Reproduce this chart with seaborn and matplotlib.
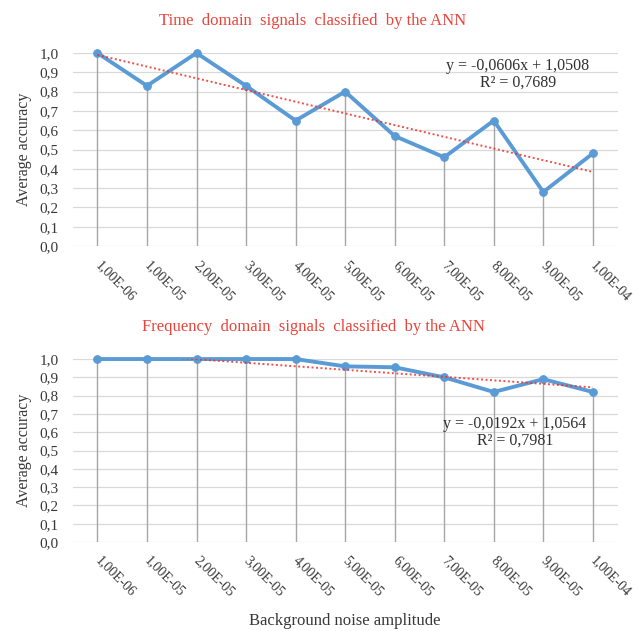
import numpy as np
import pandas as pd
import matplotlib
matplotlib.use("Agg")
import matplotlib.pyplot as plt
import seaborn as sns

# Noise amplitude categories (x axis)
noise_labels = ["1,00E-06", "1,00E-05", "2,00E-05", "3,00E-05", "4,00E-05",
                "5,00E-05", "6,00E-05", "7,00E-05", "8,00E-05", "9,00E-05", "1,00E-04"]

# Average accuracy per noise level
time_acc = [1.00, 0.83, 1.00, 0.83, 0.65, 0.80, 0.57, 0.46, 0.65, 0.28, 0.48]
freq_acc = [1.00, 1.00, 1.00, 1.00, 1.00, 0.96, 0.955, 0.90, 0.82, 0.89, 0.82]

# Linear trend lines (slope, intercept, R^2), x = 1..11
time_trend = (-0.0606, 1.0508, 0.7689)
freq_trend = (-0.0192, 1.0564, 0.7981)

y_ticks = [0.0, 0.1, 0.2, 0.3, 0.4, 0.5, 0.6, 0.7, 0.8, 0.9, 1.0]
y_tick_labels = ["0,0", "0,1", "0,2", "0,3", "0,4", "0,5", "0,6", "0,7", "0,8", "0,9", "1,0"]

titles = ["Time  domain  signals  classified  by the ANN",
          "Frequency  domain  signals  classified  by the ANN"]
y_label = "Average accuracy"
x_label = "Background noise amplitude"

sns.set_theme(style="white")
plt.rcParams["font.family"] = ["Liberation Serif", "DejaVu Serif"]

fig = plt.figure(figsize=(6.43, 6.31), dpi=100)
ax_top = fig.add_axes([0.113, 0.610, 0.8475, 0.306])
ax_bot = fig.add_axes([0.113, 0.141, 0.8475, 0.290])

line_col = "#5b9bd5"
trend_col = "#f0302a"
title_col = "#e8453c"
text_col = "#383838"


def fmt(v, nd=4):
    return f"{v:.{nd}f}".replace(".", ",")


def draw(ax, acc, trend, title, eq_xy):
    pos = np.arange(len(noise_labels))
    df = pd.DataFrame({"pos": pos, "acc": acc})
    # horizontal grid
    for t in y_ticks:
        ax.axhline(t, color="#d9d9d9", lw=0.9, zorder=0)
    # drop lines from each point to the axis
    ax.vlines(df["pos"], 0, df["acc"], color="#a6a6a6", lw=1.0, zorder=1)
    sns.lineplot(data=df, x="pos", y="acc", ax=ax, color=line_col, lw=2.8,
                 marker="o", markersize=5.5, markeredgecolor=line_col,
                 zorder=3, clip_on=False)
    slope, icpt, r2 = trend
    xs = pos + 1
    ax.plot(pos, slope * xs + icpt, color=trend_col, lw=1.4, ls=(0, (1, 1.3)),
            zorder=4, alpha=0.85)
    ax.set_xlim(-0.5, len(noise_labels) - 0.5)
    ax.set_ylim(0, 1.0)
    ax.set_yticks(y_ticks)
    ax.set_yticklabels(y_tick_labels, fontsize=11, color=text_col)
    ax.set_xticks(pos)
    ax.set_xticklabels(noise_labels, rotation=-45, ha="left", va="center",
                       rotation_mode="anchor", fontsize=10, color=text_col)
    ax.tick_params(axis="y", length=0, pad=10)
    ax.tick_params(axis="x", length=0, pad=12)
    for s in ax.spines.values():
        s.set_visible(False)
    ax.set_xlabel("")
    ax.set_ylabel(y_label, fontsize=11.5, color=text_col)
    ax.yaxis.set_label_coords(-0.074, 0.5)
    ax.set_title(title, color=title_col, fontsize=12, x=0.441, pad=20)
    eq = f"y = {fmt(slope)}x + {fmt(icpt)}\nR\u00b2 = {fmt(r2)}"
    ax.text(eq_xy[0], eq_xy[1], eq, transform=ax.transData, ha="center",
            va="center", fontsize=11.5, color="#303030", linespacing=1.1,
            zorder=5)


draw(ax_top, time_acc, time_trend, titles[0], (8.49, 0.89))
draw(ax_bot, freq_acc, freq_trend, titles[1], (8.43, 0.60))
ax_bot.set_xlabel(x_label, fontsize=12, color=text_col, labelpad=10)

fig.savefig("out.png", dpi=100, facecolor="white")
